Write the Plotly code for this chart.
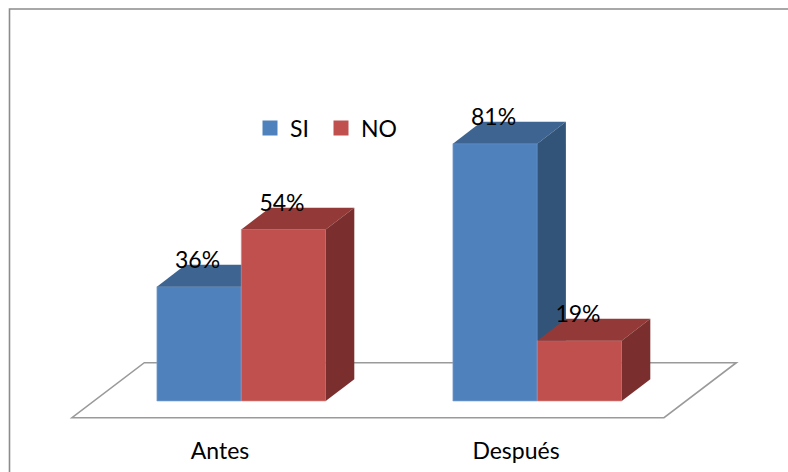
import plotly.graph_objects as go

categories = ["Antes", "Después"]
si_values = [36, 81]
no_values = [54, 19]
series_names = ["SI", "NO"]

# pseudo-3D styling (in axis units)
PX_X = 296.0     # pixels per category
PX_Y = 3.177     # pixels per percentage point
BAR_W = 84.4 / PX_X
SHIFT = 21.3 / PX_X
DEPTH_X = 28.6 / PX_X
DEPTH_Y = 21.8 / PX_Y
FLOOR_DX = 72.3 / PX_X
FLOOR_DY = 55.0 / PX_Y
FLOOR_Y = -16.7 / PX_Y
LABEL_UP = 24.0 / PX_Y
LABEL_LEFT = 1.5 / PX_X

BLUE = dict(front="#4F81BD", top="#3E6491", side="#335479", edge="rgba(130,165,210,0.8)")
RED = dict(front="#C0504D", top="#933A38", side="#7A2F2E", edge="rgba(220,140,135,0.8)")
FONT = "Lato, Carlito, Calibri, sans-serif"
FSIZE = 23
LINE = "#9A9A9A"

W, H = 788, 472
MB = 44
PLOT_H = H - MB
xr = [-220 / PX_X, (W - 220) / PX_X]
yr = [-(PLOT_H - 401) / PX_Y, 401 / PX_Y]

fig = go.Figure()


def add_series(values, name, col, left_edge, xa, ya):
    xs = [i + SHIFT for i in range(len(values))]
    fig.add_trace(go.Bar(
        x=xs, y=values, name=name, width=BAR_W, offset=-BAR_W if left_edge else 0,
        marker=dict(color=col["front"], line=dict(color=col["edge"], width=0.8)),
        xaxis=xa, yaxis=ya, showlegend=False, hoverinfo="skip",
    ))
    for x, v in zip(xs, values):
        x0 = x - BAR_W if left_edge else x
        x1 = x0 + BAR_W
        fig.add_trace(go.Scatter(
            x=[x0, x1, x1 + DEPTH_X, x0 + DEPTH_X, x0],
            y=[v, v, v + DEPTH_Y, v + DEPTH_Y, v],
            fill="toself", fillcolor=col["top"], mode="lines", line=dict(width=0),
            xaxis=xa, yaxis=ya, showlegend=False, hoverinfo="skip",
        ))
        fig.add_trace(go.Scatter(
            x=[x1, x1 + DEPTH_X, x1 + DEPTH_X, x1, x1],
            y=[0, DEPTH_Y, v + DEPTH_Y, v, 0],
            fill="toself", fillcolor=col["side"], mode="lines", line=dict(width=0),
            xaxis=xa, yaxis=ya, showlegend=False, hoverinfo="skip",
        ))


add_series(si_values, series_names[0], BLUE, True, "x", "y")
add_series(no_values, series_names[1], RED, False, "x2", "y2")

# data labels, above the front face centre of each bar
for values, left_edge in ((si_values, True), (no_values, False)):
    fig.add_trace(go.Scatter(
        x=[i + SHIFT - LABEL_LEFT + (-BAR_W / 2 if left_edge else BAR_W / 2) for i in range(len(values))],
        y=[v + LABEL_UP for v in values],
        text=[f"{v}%" for v in values],
        mode="text", textposition="middle center",
        textfont=dict(family=FONT, size=FSIZE, color="#000000"),
        xaxis="x2", yaxis="y2", showlegend=False, hoverinfo="skip",
    ))

# legend entries, one legend per series so each can be placed on its own
for name, col, leg in zip(series_names, (BLUE, RED), ("legend", "legend2")):
    fig.add_trace(go.Scatter(
        x=[None], y=[None], name=name, mode="markers", legend=leg,
        marker=dict(symbol="square", size=15, color=col["front"]),
    ))

# floor
fx0, fx1 = -0.5, 1.5
floor = (f"M {fx0},{FLOOR_Y} L {fx1},{FLOOR_Y} L {fx1 + FLOOR_DX},{FLOOR_Y + FLOOR_DY} "
         f"L {fx0 + FLOOR_DX},{FLOOR_Y + FLOOR_DY} Z")
fig.add_shape(type="path", path=floor, xref="x", yref="y", layer="below",
              fillcolor="white", line=dict(color=LINE, width=1.6))

# chart frame (top and left edges reach into the page)
fig.add_shape(type="rect", xref="paper", yref="paper", layer="below",
              x0=9.5 / W, x1=1.05, y0=-0.3, y1=(H - MB - 9) / (H - MB),
              line=dict(color="#8C8C8C", width=1.6), fillcolor="rgba(0,0,0,0)")

axis_common = dict(showgrid=False, zeroline=False, showline=False, fixedrange=True)
legend_common = dict(xanchor="left", y=1 - 128 / PLOT_H, yanchor="middle", itemsizing="trace",
                     bgcolor="rgba(0,0,0,0)", font=dict(family=FONT, size=FSIZE))
fig.update_layout(
    width=W, height=H,
    margin=dict(l=0, r=0, t=0, b=MB, pad=0, autoexpand=False),
    paper_bgcolor="white", plot_bgcolor="white",
    barmode="overlay",
    font=dict(family=FONT, size=FSIZE, color="#000000"),
    xaxis=dict(range=xr, tickmode="array", tickvals=[0, 1], ticktext=categories,
               ticks="outside", ticklen=2, tickcolor="rgba(0,0,0,0)", **axis_common),
    yaxis=dict(range=yr, showticklabels=False, ticks="", **axis_common),
    xaxis2=dict(range=xr, overlaying="x", visible=False, **axis_common),
    yaxis2=dict(range=yr, overlaying="y", visible=False, **axis_common),
    legend=dict(x=250 / W, **legend_common),
    legend2=dict(x=321 / W, **legend_common),
    showlegend=True,
)

fig.write_html("out.html", post_script="document.body.style.margin='0';",
               config={"displayModeBar": False})
